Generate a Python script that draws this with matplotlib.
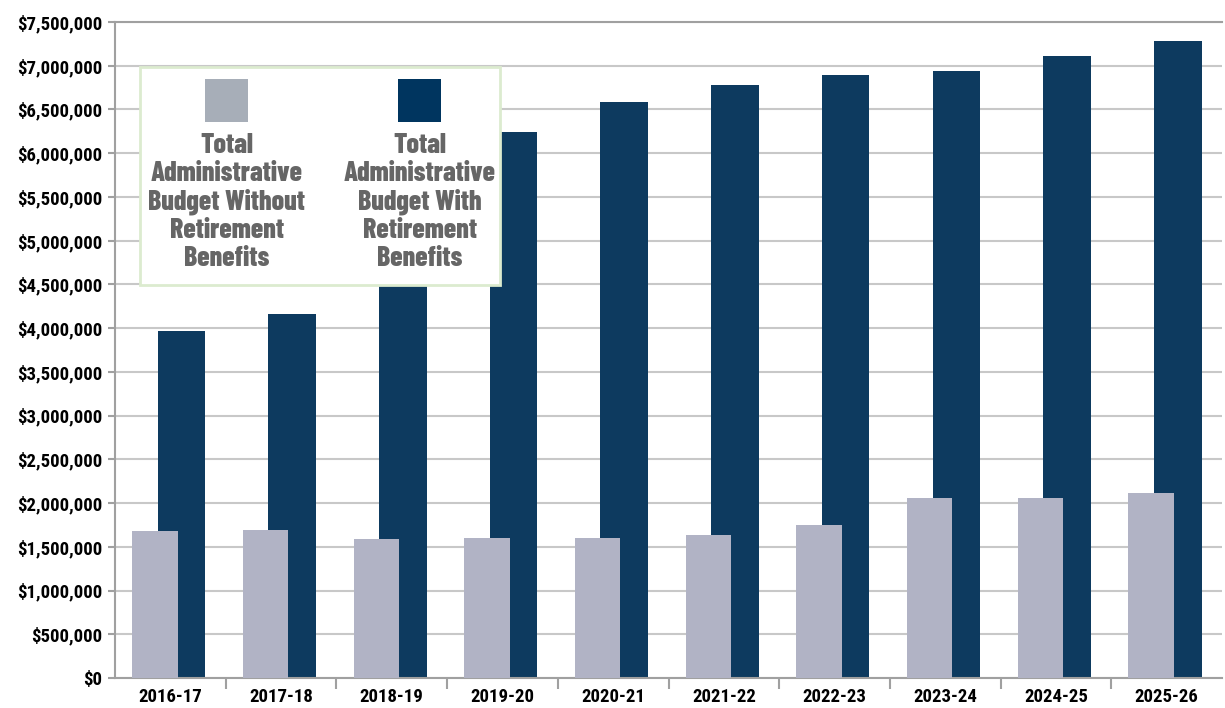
import matplotlib
matplotlib.use("Agg")
import matplotlib.pyplot as plt
from matplotlib.patches import Rectangle
from matplotlib.ticker import FuncFormatter, MultipleLocator

# Data
years = ["2016-17", "2017-18", "2018-19", "2019-20", "2020-21",
         "2021-22", "2022-23", "2023-24", "2024-25", "2025-26"]
without_retirement = [1680000, 1690000, 1590000, 1600000, 1600000,
                      1640000, 1750000, 2060000, 2060000, 2110000]
with_retirement = [3970000, 4160000, 5300000, 6245000, 6585000,
                   6780000, 6890000, 6940000, 7115000, 7280000]
legend_labels = ["Total\nAdministrative\nBudget Without\nRetirement\nBenefits",
                 "Total\nAdministrative\nBudget With\nRetirement\nBenefits"]

grey = "#B1B3C5"
navy = "#0D3A5F"
tick_font = ["Roboto Condensed", "DejaVu Sans"]
legend_font = ["Barlow Condensed", "Roboto Condensed", "DejaVu Sans"]
plt.rcParams["font.family"] = tick_font

W, H = 1225, 708
fig = plt.figure(figsize=(W / 100, H / 100), dpi=100, facecolor="white")
ax = fig.add_axes([115 / W, 1 - 678 / H, (1222 - 115) / W, (678 - 22) / H])

x = list(range(len(years)))
ax.bar([i + 0.10 for i in x], with_retirement, width=0.43, color=navy, zorder=2)
ax.bar([i - 0.14 for i in x], without_retirement, width=0.41, color=grey, zorder=3)

ax.set_xlim(-0.5, len(years) - 0.5)
ax.set_ylim(0, 7500000)
ax.yaxis.set_major_locator(MultipleLocator(500000))
ax.yaxis.set_major_formatter(FuncFormatter(lambda v, p: "${:,.0f}".format(v)))
ax.grid(axis="y", color="#C8C8C8", linewidth=1.5, zorder=0)
ax.set_axisbelow(True)

ax.set_xticks(x)
ax.set_xticklabels(years)
ax.set_xticks([i + 0.5 for i in x[:-1]], minor=True)
ax.tick_params(axis="x", which="major", length=0, pad=7)
ax.tick_params(axis="x", which="minor", length=8, width=1.5, color="#A0A0A0")
ax.tick_params(axis="y", length=5, width=1.5, color="#A0A0A0", pad=4)
for lab in ax.get_xticklabels() + ax.get_yticklabels():
    lab.set_fontsize(13.5)
    lab.set_fontweight("bold")
    lab.set_color("black")

for s in ["left", "bottom", "top"]:
    ax.spines[s].set_color("#A0A0A0")
    ax.spines[s].set_linewidth(1.5)
ax.spines["right"].set_visible(False)

# Legend box drawn by hand
fig.patches.append(Rectangle((140 / W, 1 - 285 / H), 360 / W, 218 / H,
                             transform=fig.transFigure, facecolor="white",
                             edgecolor="#DCEBCF", linewidth=2, zorder=5))
for cx, col, lab in [(227, "#A7AEB8", legend_labels[0]),
                     (420, "#00355F", legend_labels[1])]:
    fig.patches.append(Rectangle(((cx - 22) / W, 1 - 122 / H), 43 / W, 43 / H,
                                 transform=fig.transFigure, facecolor=col,
                                 edgecolor="none", zorder=6))
    fig.text(cx / W, 1 - 133 / H, lab, ha="center", va="top", fontsize=20,
             fontweight="heavy", color="#666666", linespacing=1.14,
             family=legend_font, zorder=7)

fig.savefig("out.png", dpi=100)
